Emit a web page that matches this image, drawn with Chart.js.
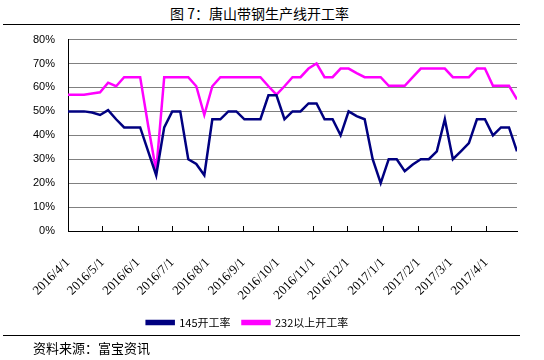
<!DOCTYPE html>
<html>
<head>
<meta charset="utf-8">
<script src="https://cdn.jsdelivr.net/npm/chart.js@4"></script>
<style>
  body { margin: 0; background: #fff; }
  #wrap { position: relative; width: 544px; height: 360px; overflow: hidden; }
  #title { position: absolute; left: 3px; width: 513px; top: 3px; text-align: center;
    font: 14px "Noto Sans CJK SC", sans-serif; color: #000; }
  .rule { position: absolute; left: 3px; width: 517px; height: 0; border-top: 1px solid #000; }
  #src { position: absolute; left: 33px; top: 338px; font: 13px "Noto Sans CJK SC", sans-serif; color: #000; }
  #box { position: absolute; left: -22px; top: 20px; width: 566px; height: 318px; }
</style>
</head>
<body>
<div id="wrap">
  <div id="title">图 7：唐山带钢生产线开工率</div>
  <div class="rule" style="top:24px"></div>
  <div id="box"><canvas id="myChart" width="566" height="318"></canvas></div>
  <div class="rule" style="top:335px"></div>
  <div id="src">资料来源：富宝资讯</div>
</div>
<script>
// weekly dates (Fridays)
const dates = [
  '2016-04-01','2016-04-08','2016-04-15','2016-04-22','2016-04-29',
  '2016-05-06','2016-05-13','2016-05-20','2016-05-27',
  '2016-06-03','2016-06-10','2016-06-17','2016-06-24',
  '2016-07-01','2016-07-08','2016-07-15','2016-07-22','2016-07-29',
  '2016-08-05','2016-08-12','2016-08-19','2016-08-26',
  '2016-09-02','2016-09-09','2016-09-16','2016-09-23','2016-09-30',
  '2016-10-07','2016-10-14','2016-10-21','2016-10-28',
  '2016-11-04','2016-11-11','2016-11-18','2016-11-25',
  '2016-12-02','2016-12-09','2016-12-16','2016-12-23','2016-12-30',
  '2017-01-06','2017-01-13','2017-01-20','2017-01-27',
  '2017-02-03','2017-02-10','2017-02-17','2017-02-24',
  '2017-03-03','2017-03-10','2017-03-17','2017-03-24','2017-03-31',
  '2017-04-07','2017-04-14','2017-04-21','2017-04-28'
];

const rate145 = [
  50, 50, 50, 49.5, 48.5, 50.5, 46.7, 43.3, 43.3, 43.3,
  33.3, 23.3, 43.3, 50, 50, 30, 28, 23.3, 46.7, 46.7,
  50, 50, 46.7, 46.7, 46.7, 56.7, 56.7, 46.7, 50, 50,
  53.3, 53.3, 46.7, 46.7, 40, 50, 48, 46.7, 30, 20,
  30, 30, 25, 27.8, 30, 30, 33.3, 46.7, 30, 33.3,
  36.7, 46.7, 46.7, 40, 43.3, 43.3, 33.3
];

const rate232 = [
  57, 57, 57, 57.5, 58, 62, 60.5, 64.3, 64.3, 64.3,
  44, 25, 64.3, 64.3, 64.3, 64.3, 60.5, 48.5, 60.5, 64.3,
  64.3, 64.3, 64.3, 64.3, 64.3, 60.5, 57, 60.5, 64.3, 64.3,
  67.9, 70, 64.3, 64.3, 67.9, 67.9, 66, 64.3, 64.3, 64.3,
  60.7, 60.7, 60.7, 64.3, 67.9, 67.9, 67.9, 67.9, 64.3, 64.3,
  64.3, 67.9, 67.9, 60.7, 60.7, 60.7, 55
];

const tickDates = [
  '2016-04-01','2016-05-01','2016-06-01','2016-07-01','2016-08-01','2016-09-01',
  '2016-10-01','2016-11-01','2016-12-01','2017-01-01','2017-02-01','2017-03-01','2017-04-01'
];
const tickLabels = [
  '2016/4/1','2016/5/1','2016/6/1','2016/7/1','2016/8/1','2016/9/1',
  '2016/10/1','2016/11/1','2016/12/1','2017/1/1','2017/2/1','2017/3/1','2017/4/1'
];

const day0 = Date.parse(dates[0]);
const toDay = s => Math.round((Date.parse(s) - day0) / 86400000);
const xs = dates.map(toDay);
const tickDays = tickDates.map(toDay);

// short tick marks pointing up into the plot
const innerTicks = {
  id: 'innerTicks',
  afterDatasetsDraw(chart) {
    const x = chart.scales.x, ctx = chart.ctx, y0 = chart.chartArea.bottom;
    ctx.save();
    ctx.strokeStyle = '#000';
    ctx.lineWidth = 1;
    tickDays.slice(1).forEach(d => {
      const px = Math.round(x.getPixelForValue(d)) + 0.5;
      ctx.beginPath();
      ctx.moveTo(px, y0);
      ctx.lineTo(px, y0 - 5);
      ctx.stroke();
    });
    ctx.restore();
  }
};

const data = {
  datasets: [
    {
      label: '145开工率',
      data: xs.map((d, i) => ({ x: d, y: rate145[i] })),
      borderColor: '#000080',
      backgroundColor: '#000080',
      borderWidth: 2.5,
      pointRadius: 0,
      tension: 0,
    },
    {
      label: '232以上开工率',
      data: xs.map((d, i) => ({ x: d, y: rate232[i] })),
      borderColor: '#FF00FF',
      backgroundColor: '#FF00FF',
      borderWidth: 2.5,
      pointRadius: 0,
      tension: 0,
    },
  ]
};

const config = {
  type: 'line',
  data: data,
  plugins: [innerTicks],
  options: {
    responsive: false,
    animation: false,
    layout: {
      padding: { top: 0, right: 27, left: 0, bottom: 0 }
    },
    scales: {
      x: {
        type: 'linear',
        min: 0,
        max: xs[xs.length - 1],
        afterBuildTicks: scale => {
          scale.ticks = tickDays.map(v => ({ value: v }));
        },
        afterFit: scale => { scale.height = 74; },
        ticks: {
          autoSkip: false,
          maxRotation: 45,
          minRotation: 45,
          padding: 24,
          color: '#000',
          font: { family: 'Liberation Serif', size: 13 },
          callback: function(value) {
            const i = tickDays.indexOf(value);
            return i >= 0 ? tickLabels[i] : '';
          }
        },
        grid: { drawOnChartArea: false, drawTicks: false },
        border: { color: '#000', width: 1 }
      },
      y: {
        min: 0,
        max: 80,
        afterFit: scale => { scale.width = 90; },
        ticks: {
          stepSize: 10,
          padding: 13,
          color: '#000',
          font: { family: 'Liberation Sans', size: 11 },
          callback: function(value) {
            return value + '%';
          }
        },
        grid: { color: '#808080', drawTicks: false },
        border: { color: '#000', width: 1 }
      }
    },
    plugins: {
      tooltip: { enabled: false },
      legend: {
        position: 'bottom',
        labels: {
          boxWidth: 27,
          boxHeight: 3,
          padding: 12,
          color: '#000',
          font: { family: 'Noto Sans CJK SC', size: 11 }
        }
      }
    }
  }
};

const myChart = new Chart(
  document.getElementById('myChart'),
  config,
);
</script>
</body>
</html>
